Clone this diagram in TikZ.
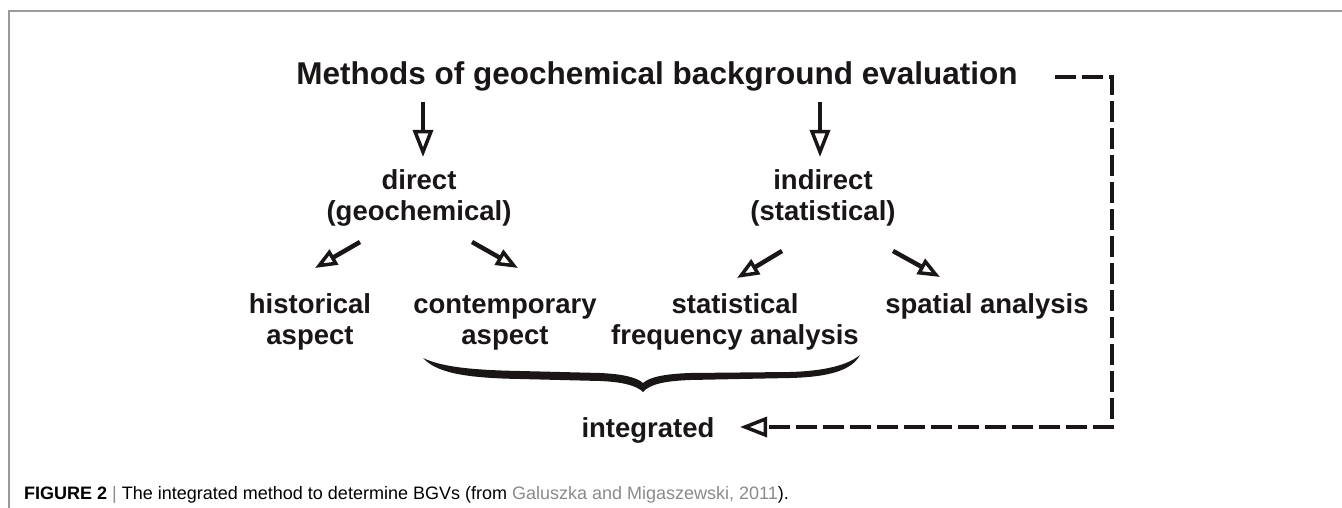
\documentclass[tikz,border=0pt]{standalone}
\usepackage{fontspec}
\setmainfont{Liberation Sans}
\usetikzlibrary{arrows.meta,calc}
\definecolor{ink}{HTML}{1A1616}
\definecolor{framegray}{HTML}{9A9A9A}
\definecolor{capgray}{HTML}{8A8A8A}
\begin{document}
\begin{tikzpicture}[x=1pt,y=-1pt,
  lbl/.style={anchor=base, inner sep=0pt, align=center, text=ink, font=\bfseries\fontsize{27.5}{31}\selectfont},
  ttl/.style={anchor=base, inner sep=0pt, text=ink, font=\bfseries\fontsize{31.5}{36}\selectfont},
  bigtip/.style={-{Triangle[length=27pt, width=20pt, fill=white, line width=3.5pt]}},
  smalltip/.style={-{Triangle[length=22pt, width=17pt, fill=white, line width=3.5pt]}},
  arr/.style={draw=ink, line width=4.5pt},
  dashline/.style={draw=ink, line width=4.5pt, dash pattern=on 21pt off 6pt},
]
\useasboundingbox (0,0) rectangle (1342,508);
\draw[framegray, line width=1.3pt] (9,508) -- (9,11) -- (1342,11);

\node[ttl] (title) at (657,85) {Methods of geochemical background evaluation};
\node[lbl] (direct) at (419,220) {direct\\(geochemical)};
\node[lbl] (indirect) at (823,220) {indirect\\(statistical)};
\node[lbl] (historical) at (310,344) {historical\\aspect};
\node[lbl] (contemporary) at (505,344) {contemporary\\aspect};
\node[lbl] (statistical) at (735,344) {statistical\\frequency analysis};
\node[lbl] (spatial) at (987,313) {spatial analysis};
\node[lbl] (integrated) at (648,437) {integrated};

\draw[arr, bigtip] ([shift={(-234,17)}]title.base) -- ([shift={(4,-63)}]direct.base);
\draw[arr, bigtip] ([shift={(163,17)}]title.base) -- ([shift={(-3,-63)}]indirect.base);
\draw[arr, smalltip] ([shift={(-59,22)}]direct.base) -- ([shift={(5,-76)}]historical.base);
\draw[arr, smalltip] ([shift={(53,22)}]direct.base) -- ([shift={(13,-76)}]contemporary.base);
\draw[arr, smalltip] ([shift={(-41,31)}]indirect.base) -- ([shift={(2,-66)}]statistical.base);
\draw[arr, smalltip] ([shift={(70,31)}]indirect.base) -- ([shift={(-47,-36)}]spatial.base);

\coordinate (dstart) at (1055,77);
\coordinate (cornerA) at (1112,77);
\coordinate (cornerB) at (1112,427);
\draw[dashline, bigtip] (dstart) -- (cornerA) -- (cornerB) -- ([shift={(92,-10)}]integrated.base);

% brace
\fill[ink] (423,358) .. controls (436,372) and (462,378) .. (520,379)
  -- (600,381) .. controls (624,382) and (637,386) .. (643,392)
  .. controls (650,384) and (665,381) .. (690,380)
  -- (790,378) .. controls (830,377) and (852,370) .. (860,355)
  .. controls (848,365) and (825,371) .. (790,372)
  -- (690,373) .. controls (664,374) and (650,377) .. (643,383)
  .. controls (636,377) and (622,374) .. (600,373)
  -- (520,371) .. controls (466,370) and (440,366) .. (423,358) -- cycle;

\node[anchor=base west, inner sep=0pt, font=\fontsize{18}{22}\selectfont] (caption) at (24,499)
  {\textbf{FIGURE 2} {\color{capgray}|} The integrated method to determine BGVs (from {\color{capgray}Galuszka and Migaszewski, 2011}).};
\end{tikzpicture}
\end{document}
